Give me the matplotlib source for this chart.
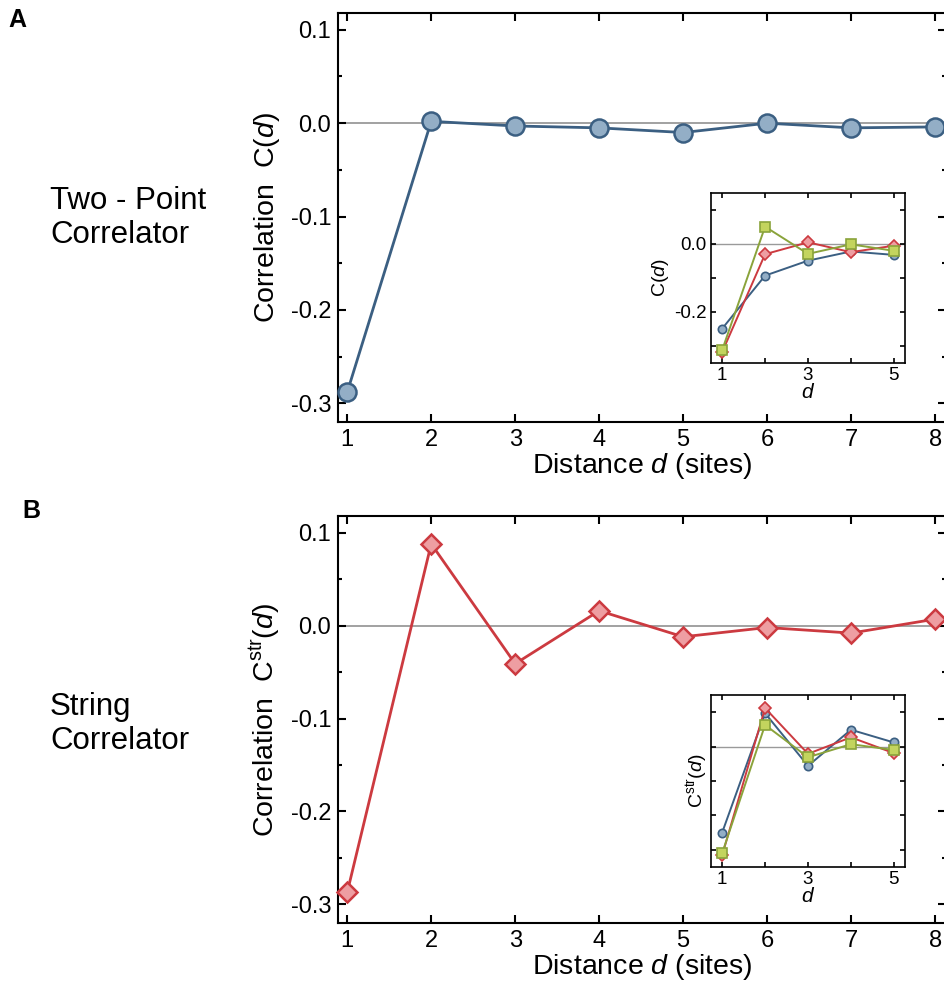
import matplotlib
matplotlib.use('Agg')
import matplotlib.pyplot as plt

plt.rcParams['font.family'] = ['Liberation Sans', 'DejaVu Sans']
plt.rcParams['mathtext.fontset'] = 'custom'
plt.rcParams['mathtext.rm'] = 'Liberation Sans'
plt.rcParams['mathtext.it'] = 'Liberation Sans:italic'
plt.rcParams['axes.unicode_minus'] = False

# main panels
dist = [1, 2, 3, 4, 5, 6, 7, 8]
two_point = [-0.288, 0.002, -0.003, -0.005, -0.010, 0.000, -0.005, -0.004]
string_corr = [-0.287, 0.088, -0.041, 0.016, -0.012, -0.002, -0.008, 0.007]

# insets
d_in = [1, 2, 3, 4, 5]
inA_blue = [-0.249, -0.093, -0.049, -0.022, -0.032]
inA_blue_err = [0.005, 0.012, 0.006, 0.005, 0.012]
inA_red = [-0.318, -0.030, 0.005, -0.024, -0.005]
inA_green = [-0.312, 0.051, -0.029, -0.001, -0.020]
inB_blue = [-0.250, 0.097, -0.056, 0.049, 0.012]
inB_blue_err = [0.005, 0.010, 0.006, 0.010, 0.010]
inB_red = [-0.316, 0.112, -0.021, 0.027, -0.019]
inB_green = [-0.310, 0.063, -0.031, 0.007, -0.010]

main_yticks = [0.1, 0.0, -0.1, -0.2, -0.3]
main_yticklabels = ['0.1', '0.0', '-0.1', '-0.2', '-0.3']
in_yticks = [0.1, 0.0, -0.1, -0.2, -0.3]

blue_line, blue_face = '#3b5f82', '#93aec6'
red_line, red_face = '#cc3a40', '#ee9ea2'
green_line, green_face = '#8aa33b', '#c3d45e'

W, H = 944, 992
fig = plt.figure(figsize=(W / 100, H / 100), dpi=100)


def px_axes(l, t, r, b):
    return fig.add_axes([l / W, 1 - b / H, (r - l) / W, (b - t) / H])


def style(ax, major, minor, width):
    for s in ax.spines.values():
        s.set_linewidth(width)
    ax.tick_params(which='both', direction='in', top=True, right=True, width=width)
    ax.tick_params(which='major', length=major)
    ax.tick_params(which='minor', length=minor)


def main_panel(top, bottom, y, marker, lc, fc, ms, ylabel):
    ax = px_axes(338, top, 946, bottom)
    ax.axhline(0, color='#9a9a9a', lw=1.3, zorder=1)
    ax.plot(dist, y, '-', marker=marker, color=lc, lw=2.0, ms=ms,
            mfc=fc, mec=lc, mew=1.8, zorder=3, clip_on=False)
    ax.set_xlim(0.89, 8.13)
    ax.set_ylim(-0.32, 0.118)
    ax.set_xticks(dist)
    ax.set_yticks(main_yticks)
    ax.set_yticklabels(main_yticklabels)
    ax.set_yticks([0.05, -0.05, -0.15, -0.25], minor=True)
    style(ax, 6, 3, 1.5)
    ax.tick_params(labelsize=17, pad=5)
    ax.set_xlabel('Distance $\\it{d}$ (sites)', fontsize=20.5, labelpad=0)
    ax.set_ylabel(ylabel, fontsize=20.5, labelpad=6)
    return ax


def inset(top, bottom, blue, blue_err, red, green, ylabel, show_ylabels, lpad):
    ax = px_axes(711, top, 905, bottom)
    ax.axhline(0, color='#9a9a9a', lw=1.0, zorder=1)
    ax.errorbar(d_in, blue, yerr=blue_err, fmt='-o', color=blue_line, lw=1.4,
                ms=6, mfc=blue_face, mec=blue_line, mew=1.2, elinewidth=1.4,
                capsize=0, zorder=2)
    ax.plot(d_in, red, '-D', color=red_line, lw=1.4, ms=6, mfc=red_face,
            mec=red_line, mew=1.2, zorder=3, clip_on=False)
    ax.plot(d_in, green, '-s', color=green_line, lw=1.4, ms=6.5, mfc=green_face,
            mec=green_line, mew=1.2, zorder=4, clip_on=False)
    ax.set_xlim(0.74, 5.26)
    ax.set_ylim(-0.35, 0.15)
    ax.set_xticks(d_in)
    ax.set_xticklabels(['1', '', '3', '', '5'])
    ax.set_yticks(in_yticks)
    if show_ylabels:
        ax.set_yticklabels(['', '0.0', '', '-0.2', ''])
    else:
        ax.set_yticklabels([])
    style(ax, 3.5, 2, 1.2)
    ax.tick_params(labelsize=13.5, pad=3)
    ax.set_xlabel('$\\it{d}$', fontsize=15, labelpad=-1)
    ax.set_ylabel(ylabel, fontsize=14, labelpad=lpad)
    return ax


main_panel(13, 422, two_point, 'o', blue_line, blue_face, 13,
           'Correlation  C($\\it{d}$)')
inset(193, 363, inA_blue, inA_blue_err, inA_red, inA_green,
      'C($\\it{d}$)', True, 2)

main_panel(516, 923, string_corr, 'D', red_line, red_face, 10.5,
           'Correlation  C$^{\\rm str}$($\\it{d}$)')
inset(695, 867, inB_blue, inB_blue_err, inB_red, inB_green,
      'C$^{\\rm str}$($\\it{d}$)', False, -2)

fig.text(8 / W, 1 - 8 / H, 'A', fontsize=18, fontweight='bold', va='top')
fig.text(22 / W, 1 - 499 / H, 'B', fontsize=18, fontweight='bold', va='top')
fig.text(50 / W, 1 - 218 / H, 'Two - Point\nCorrelator', fontsize=22.5,
         va='center', linespacing=1.2)
fig.text(50 / W, 1 - 724 / H, 'String\nCorrelator', fontsize=22.5,
         va='center', linespacing=1.2)

fig.savefig('out.png', dpi=100)
